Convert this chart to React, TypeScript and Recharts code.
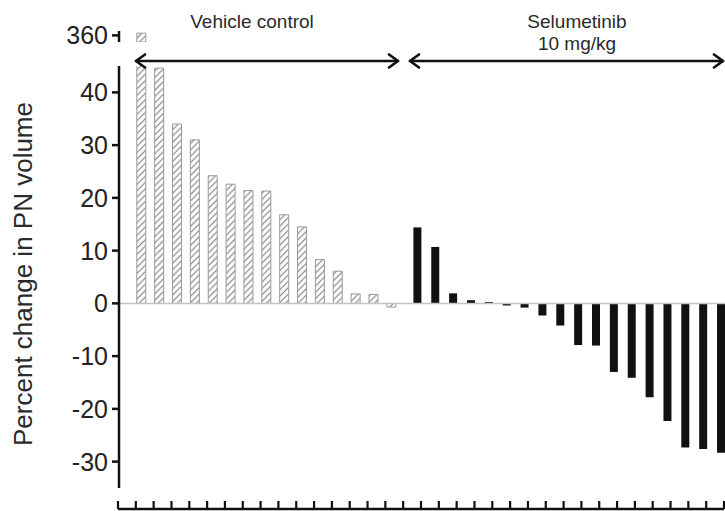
import { BarChart, Bar, XAxis, YAxis, ReferenceLine, LineChart, Line } from "recharts";

// percent change in PN volume, one bar per animal, sorted
const VEHICLE_CHANGE = [361, 44.6, 34.0, 31.0, 24.2, 22.6, 21.4, 21.3, 16.8, 14.5, 8.3, 6.1, 1.8, 1.7, -0.7];
const SELUMETINIB_CHANGE = [
  14.4, 10.7, 1.9, 0.6, 0.25, -0.4, -0.8, -2.3, -4.2, -7.9, -8.0, -13.0, -14.1, -17.8, -22.3, -27.3, -27.6, -28.3,
];
const VEHICLE_IDS = VEHICLE_CHANGE.map((_, i) => `V${i + 1}`);
const SELUMETINIB_IDS = SELUMETINIB_CHANGE.map((_, i) => `S${i + 1}`);

const Y_TICKS = [-30, -20, -10, 0, 10, 20, 30, 40];
const BREAK_TICKS = [360];
const BOTTOM_TICKS = Array.from({ length: 35 }, (_, i) => i);

const MAIN_DOMAIN: [number, number] = [-35, 45];
const BREAK_DOMAIN: [number, number] = [357, 362];

const FONT = "Liberation Sans, Arial, Helvetica, sans-serif";
const INK = "#111";

const vehicleData = VEHICLE_IDS.map((id, i) => ({ id, change: VEHICLE_CHANGE[i] }));
// only the values above the axis break show in the top strip
const vehicleBreakData = vehicleData.map((d) => ({ ...d, change: d.change > MAIN_DOMAIN[1] ? d.change : null }));
const selumetinibData = SELUMETINIB_IDS.map((id, i) => ({ id, change: SELUMETINIB_CHANGE[i] }));
const bottomData = BOTTOM_TICKS.map((t) => ({ t }));

const axisProps = {
  axisLine: { stroke: INK, strokeWidth: 2.5 },
  tickLine: { stroke: INK, strokeWidth: 2.5 },
  tickSize: 7,
  tickMargin: 4,
  interval: 0 as const,
  tick: { fill: "#222", fontSize: 25, fontFamily: FONT },
};

function Hatch({ id }: { id: string }) {
  return (
    <defs>
      <pattern id={id} patternUnits="userSpaceOnUse" width={4.5} height={4.5} patternTransform="rotate(45)">
        <rect width={4.5} height={4.5} fill="#fff" />
        <line x1={2.25} y1={0} x2={2.25} y2={4.5} stroke="#8a8a8a" strokeWidth={1.2} />
      </pattern>
    </defs>
  );
}

function Arrow({ x1, x2, y }: { x1: number; x2: number; y: number }) {
  return (
    <g stroke={INK} strokeWidth={2.7} fill="none" strokeLinecap="round" strokeLinejoin="round">
      <line x1={x1} y1={y} x2={x2} y2={y} />
      <polyline points={`${x1 + 9},${y - 6.5} ${x1},${y} ${x1 + 9},${y + 6.5}`} />
      <polyline points={`${x2 - 9},${y - 6.5} ${x2},${y} ${x2 - 9},${y + 6.5}`} />
    </g>
  );
}

export default function App() {
  return (
    <div
      style={{
        position: "fixed",
        left: 0,
        top: 0,
        width: 725,
        height: 511,
        overflow: "hidden",
        background: "#fff",
      }}
    >
      {/* broken part of the axis, top bar reaches 360 */}
      <div style={{ position: "absolute", left: 0, top: 0 }}>
        <BarChart width={404} height={50} data={vehicleBreakData} margin={{ top: 31, right: 0, bottom: 8, left: 0 }}>
          <Hatch id="hatchTop" />
          <XAxis dataKey="id" hide padding={{ left: 13.8, right: 3.3 }} />
          <YAxis width={119} domain={BREAK_DOMAIN} ticks={BREAK_TICKS} allowDataOverflow {...axisProps} />
          <Bar dataKey="change" fill="url(#hatchTop)" stroke="#9a9a9a" strokeWidth={1} barSize={9} isAnimationActive={false} />
        </BarChart>
      </div>

      {/* vehicle control */}
      <div style={{ position: "absolute", left: 0, top: 0 }}>
        <BarChart width={404} height={511} data={vehicleData} margin={{ top: 66, right: 0, bottom: 23, left: 0 }}>
          <Hatch id="hatchMain" />
          <XAxis dataKey="id" hide padding={{ left: 13.8, right: 3.3 }} />
          <YAxis width={119} domain={MAIN_DOMAIN} ticks={Y_TICKS} allowDataOverflow {...axisProps} />
          <ReferenceLine y={0} stroke="#c4c4c4" strokeWidth={1.5} />
          <Bar dataKey="change" fill="url(#hatchMain)" stroke="#9a9a9a" strokeWidth={1} barSize={9} isAnimationActive={false} />
        </BarChart>
      </div>

      {/* selumetinib 10 mg/kg */}
      <div style={{ position: "absolute", left: 404, top: 0 }}>
        <BarChart width={330} height={511} data={selumetinibData} margin={{ top: 66, right: 0, bottom: 23, left: 0 }}>
          <XAxis dataKey="id" hide padding={{ left: 4.4, right: 4.1 }} />
          <YAxis hide domain={MAIN_DOMAIN} allowDataOverflow />
          <ReferenceLine y={0} stroke="#c4c4c4" strokeWidth={1.5} />
          <Bar dataKey="change" fill={INK} barSize={8} isAnimationActive={false} />
        </BarChart>
      </div>

      {/* tick row cut off at the bottom of the picture */}
      <div style={{ position: "absolute", left: 0, top: 470 }}>
        <LineChart width={725} height={41} data={bottomData} margin={{ top: 19, right: 1, bottom: 0, left: 118 }}>
          <XAxis
            dataKey="t"
            type="number"
            orientation="top"
            height={20}
            domain={[0, 34]}
            ticks={BOTTOM_TICKS}
            interval={0}
            tick={() => <g />}
            tickSize={8}
            axisLine={{ stroke: INK, strokeWidth: 2.5 }}
            tickLine={{ stroke: INK, strokeWidth: 2.2 }}
          />
          <YAxis hide />
          <Line dataKey="t" stroke="none" dot={false} isAnimationActive={false} />
        </LineChart>
      </div>

      <svg
        width={725}
        height={511}
        style={{ position: "absolute", left: 0, top: 0, pointerEvents: "none" }}
        fontFamily={FONT}
        fill="#2a2a2a"
      >
        <text x={252} y={28} fontSize={19} textAnchor="middle">
          Vehicle control
        </text>
        <text x={577} y={28} fontSize={19} textAnchor="middle">
          Selumetinib
        </text>
        <text x={577} y={50} fontSize={19} textAnchor="middle">
          10 mg/kg
        </text>
        <Arrow x1={136} x2={398} y={61} />
        <Arrow x1={410} x2={723} y={61} />
        <text x={32} y={274} fontSize={26} textAnchor="middle" transform="rotate(-90 32 274)">
          Percent change in PN volume
        </text>
      </svg>
    </div>
  );
}
